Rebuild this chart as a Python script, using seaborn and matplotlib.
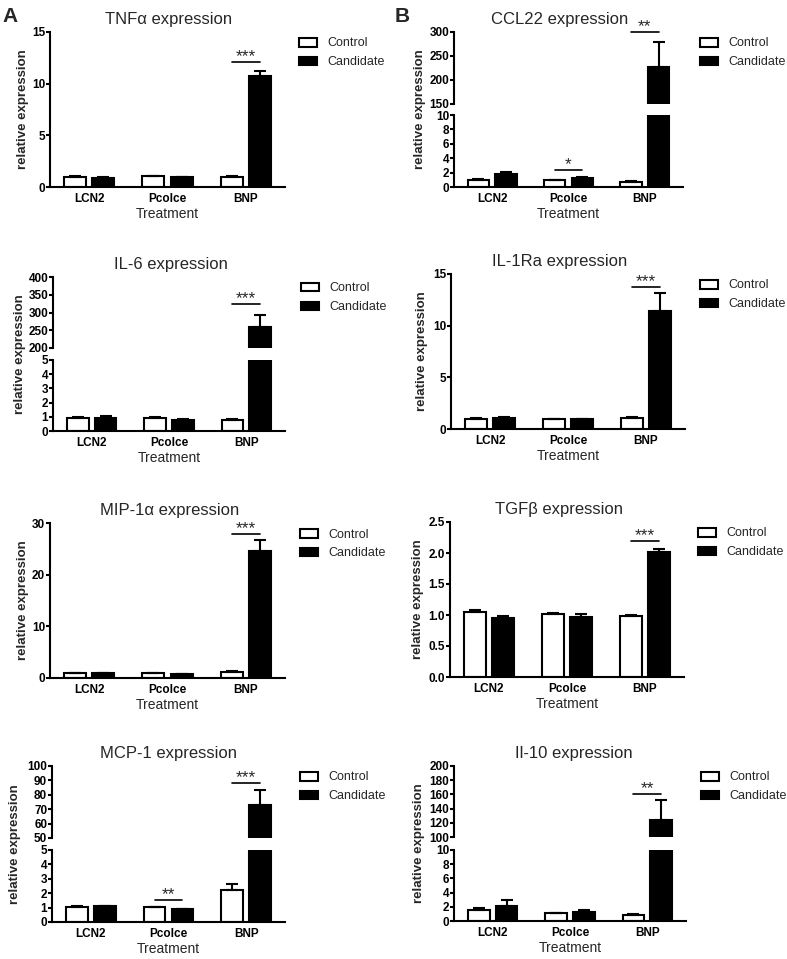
import numpy as np
import pandas as pd
import matplotlib
matplotlib.use('Agg')
import matplotlib.pyplot as plt
import seaborn as sns
from matplotlib.patches import Patch

categories = ['LCN2', 'Pcolce', 'BNP']
groups = ['Control', 'Candidate']

# means and SEM
tnf_control = [1.0, 1.02, 1.0]
tnf_control_sem = [0.03, 0.03, 0.05]
tnf_candidate = [0.9, 0.95, 10.7]
tnf_candidate_sem = [0.03, 0.03, 0.55]

ccl22_control = [1.0, 0.95, 0.7]
ccl22_control_sem = [0.05, 0.05, 0.15]
ccl22_candidate = [1.75, 1.2, 228]
ccl22_candidate_sem = [0.35, 0.12, 52]

il6_control = [0.92, 0.9, 0.78]
il6_control_sem = [0.05, 0.07, 0.06]
il6_candidate = [0.95, 0.78, 258]
il6_candidate_sem = [0.1, 0.04, 35]

il1ra_control = [1.0, 0.95, 1.1]
il1ra_control_sem = [0.03, 0.04, 0.05]
il1ra_candidate = [1.1, 0.92, 11.4]
il1ra_candidate_sem = [0.07, 0.04, 1.8]

mip_control = [1.0, 0.9, 1.2]
mip_control_sem = [0.05, 0.05, 0.2]
mip_candidate = [1.0, 0.8, 24.6]
mip_candidate_sem = [0.05, 0.05, 2.1]

tgf_control = [1.05, 1.02, 0.99]
tgf_control_sem = [0.03, 0.02, 0.01]
tgf_candidate = [0.95, 0.97, 2.02]
tgf_candidate_sem = [0.04, 0.05, 0.05]

mcp_control = [1.05, 1.03, 2.2]
mcp_control_sem = [0.03, 0.02, 0.45]
mcp_candidate = [1.08, 0.9, 73]
mcp_candidate_sem = [0.04, 0.02, 10]

il10_control = [1.5, 1.1, 0.9]
il10_control_sem = [0.4, 0.05, 0.12]
il10_candidate = [2.15, 1.3, 124]
il10_candidate_sem = [0.85, 0.3, 28]

# y ticks
tnf_ticks = [0, 5, 10, 15]
ccl22_low_ticks = [0, 2, 4, 6, 8, 10]
ccl22_high_ticks = [150, 200, 250, 300]
il6_low_ticks = [0, 1, 2, 3, 4, 5]
il6_high_ticks = [200, 250, 300, 350, 400]
il1ra_ticks = [0, 5, 10, 15]
mip_ticks = [0, 10, 20, 30]
tgf_ticks = [0.0, 0.5, 1.0, 1.5, 2.0, 2.5]
mcp_low_ticks = [0, 1, 2, 3, 4, 5]
mcp_high_ticks = [50, 60, 70, 80, 90, 100]
il10_low_ticks = [0, 2, 4, 6, 8, 10]
il10_high_ticks = [100, 120, 140, 160, 180, 200]

sns.set_style('ticks')
plt.rcParams['font.family'] = ['Liberation Sans', 'DejaVu Sans']
plt.rcParams['axes.linewidth'] = 1.5
plt.rcParams['axes.edgecolor'] = 'black'
plt.rcParams['xtick.color'] = 'black'
plt.rcParams['ytick.color'] = 'black'

W, H = 787, 959
fig = plt.figure(figsize=(W / 100, H / 100), dpi=100)


def box(l, r, t, b):
    return [l / W, 1 - b / H, (r - l) / W, (b - t) / H]


def draw_bars(ax, control, control_sem, candidate, candidate_sem):
    df = pd.DataFrame({'Treatment': categories * 2,
                       'group': ['Control'] * 3 + ['Candidate'] * 3,
                       'value': control + candidate})
    sns.barplot(data=df, x='Treatment', y='value', hue='group', hue_order=groups,
                palette={'Control': 'white', 'Candidate': 'black'}, saturation=1,
                edgecolor='black', linewidth=1.5, width=0.72, gap=0.22,
                errorbar=None, legend=False, ax=ax)
    centres = []
    for cont, means, sems in zip(ax.containers, [control, candidate],
                                 [control_sem, candidate_sem]):
        xs = [p.get_x() + p.get_width() / 2 for p in cont]
        ax.errorbar(xs, means, yerr=[np.zeros(len(sems)), sems], fmt='none',
                    ecolor='black', elinewidth=1.5, capsize=4, capthick=1.5)
        centres.append(xs)
    ax.set_xlim(-0.5, 2.5)
    return centres


def style_axis(ax, ticks, fmt, bottom=True):
    ax.set_ylim(ticks[0], ticks[-1])
    ax.set_yticks(ticks)
    ax.set_yticklabels([fmt.format(t) for t in ticks], fontweight='bold', fontsize=8.5)
    ax.tick_params(axis='y', length=3, width=1.5, pad=0.5)
    ax.set_ylabel('')
    sns.despine(ax=ax)
    if bottom:
        ax.tick_params(axis='x', length=0, pad=4.5)
        for lab in ax.get_xticklabels():
            lab.set_fontweight('bold')
            lab.set_fontsize(8.5)
        ax.set_xlabel('Treatment', fontsize=10, labelpad=1.5)
    else:
        ax.spines['bottom'].set_visible(False)
        ax.tick_params(axis='x', length=0, labelbottom=False)
        ax.set_xlabel('')


def sig(ax, centres, i, y, stars):
    x0, x1 = centres[0][i], centres[1][i]
    ax.plot([x0, x1], [y, y], color='black', lw=1.2, clip_on=False)
    ax.annotate(stars, ((x0 + x1) / 2, y), xytext=(0, -1.5), textcoords='offset points',
                ha='center', va='bottom', fontsize=12.5, annotation_clip=False)


def finish(l, r, t, b, title, title_x, ylabel_x, legend_x, top_ax):
    top_ax.set_title(title, fontsize=12, pad=5.5, x=(title_x - l) / (r - l))
    fig.text(ylabel_x / W, 1 - (t + b) / 2 / H, 'relative expression', rotation=90,
             ha='center', va='center', fontsize=9.5, fontweight='bold')
    handles = [Patch(facecolor='white', edgecolor='black', lw=1.5, label='Control'),
               Patch(facecolor='black', edgecolor='black', lw=1.5, label='Candidate')]
    fig.legend(handles=handles, loc='upper left', bbox_to_anchor=(legend_x / W, 1 - (t + 5.5) / H),
               frameon=False, fontsize=9, handlelength=1.44, handleheight=0.7,
               handletextpad=0.8, labelspacing=0.55, borderpad=0, borderaxespad=0)


def simple_panel(l, r, t, b, title, title_x, ylabel_x, legend_x, data, ticks, fmt, sigs):
    ax = fig.add_axes(box(l, r, t, b))
    centres = draw_bars(ax, *data)
    style_axis(ax, ticks, fmt)
    for i, y, stars in sigs:
        sig(ax, centres, i, y, stars)
    finish(l, r, t, b, title, title_x, ylabel_x, legend_x, ax)


def broken_panel(l, r, t, b, brk_top, brk_bot, title, title_x, ylabel_x, legend_x, data,
                 high_ticks, low_ticks, high_sigs, low_sigs):
    ax_hi = fig.add_axes(box(l, r, t, brk_top))
    ax_lo = fig.add_axes(box(l, r, brk_bot, b))
    c_hi = draw_bars(ax_hi, *data)
    c_lo = draw_bars(ax_lo, *data)
    style_axis(ax_hi, high_ticks, '{:g}', bottom=False)
    style_axis(ax_lo, low_ticks, '{:g}')
    for i, y, stars in high_sigs:
        sig(ax_hi, c_hi, i, y, stars)
    for i, y, stars in low_sigs:
        sig(ax_lo, c_lo, i, y, stars)
    finish(l, r, t, b, title, title_x, ylabel_x, legend_x, ax_hi)


simple_panel(50, 285, 32, 187, 'TNFα expression', 169, 23, 299,
             (tnf_control, tnf_control_sem, tnf_candidate, tnf_candidate_sem),
             tnf_ticks, '{:g}', [(2, 12.1, '***')])
broken_panel(454, 683, 32, 187, 104, 115, 'CCL22 expression', 560, 420, 700,
             (ccl22_control, ccl22_control_sem, ccl22_candidate, ccl22_candidate_sem),
             ccl22_high_ticks, ccl22_low_ticks, [(2, 300, '**')], [(1, 2.35, '*')])
broken_panel(53, 285, 277, 431, 348, 360, 'IL-6 expression', 171, 20, 301,
             (il6_control, il6_control_sem, il6_candidate, il6_candidate_sem),
             il6_high_ticks, il6_low_ticks, [(2, 324, '***')], [])
simple_panel(451, 685, 274, 429, 'IL-1Ra expression', 560, 422, 700,
             (il1ra_control, il1ra_control_sem, il1ra_candidate, il1ra_candidate_sem),
             il1ra_ticks, '{:g}', [(2, 13.7, '***')])
simple_panel(50, 285, 523, 678, 'MIP-1α expression', 170, 23, 300,
             (mip_control, mip_control_sem, mip_candidate, mip_candidate_sem),
             mip_ticks, '{:g}', [(2, 27.9, '***')])
simple_panel(450, 684, 522, 677, 'TGFβ expression', 559, 418, 698,
             (tgf_control, tgf_control_sem, tgf_candidate, tgf_candidate_sem),
             tgf_ticks, '{:.1f}', [(2, 2.19, '***')])
broken_panel(52, 285, 766, 922, 838, 850, 'MCP-1 expression', 169, 15, 300,
             (mcp_control, mcp_control_sem, mcp_candidate, mcp_candidate_sem),
             mcp_high_ticks, mcp_low_ticks, [(2, 88, '***')], [(1, 1.5, '**')])
broken_panel(454, 686, 766, 921, 837, 850, 'Il-10 expression', 574, 419, 701,
             (il10_control, il10_control_sem, il10_candidate, il10_candidate_sem),
             il10_high_ticks, il10_low_ticks, [(2, 160.5, '**')], [])

fig.text(2 / W, 1 - 22 / H, 'A', fontsize=15, fontweight='bold', va='baseline')
fig.text(395 / W, 1 - 22 / H, 'B', fontsize=15, fontweight='bold', va='baseline')

fig.savefig('out.png', dpi=100)
